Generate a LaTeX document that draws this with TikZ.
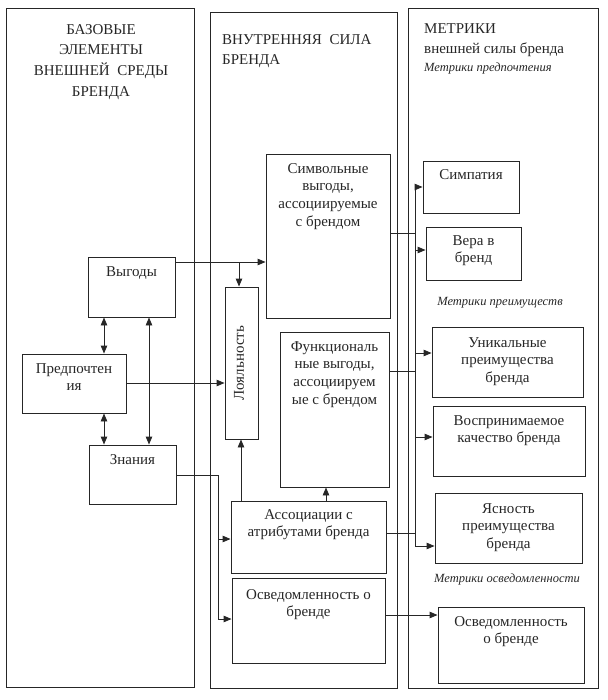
\documentclass[tikz,border=0pt]{standalone}
\usepackage{fontspec}
\setmainfont{Liberation Serif}
\usetikzlibrary{arrows.meta,calc,fit}
\begin{document}
\begin{tikzpicture}[x=1pt,y=-1pt,
  ln/.style={draw=black!85, line width=0.9pt},
  arr/.style={ln, -{Triangle[length=8pt,width=6.5pt]}},
  darr/.style={ln, {Triangle[length=8pt,width=6.5pt]}-{Triangle[length=8pt,width=6.5pt]}},
  box/.style={ln, rectangle, inner sep=0pt},
  txt/.style={inner sep=0pt, align=center, text=black!85, font=\fontsize{15}{17.7}\selectfont},
  hdr/.style={inner sep=0pt, text=black!85, font=\fontsize{15}{20.7}\selectfont},
  itl/.style={inner sep=0pt, text=black!85, font=\fontsize{12.5}{15}\selectfont\itshape}
]
\useasboundingbox (0,0) rectangle (607,700);
% columns
\node[box, fit={(6,8)(194,687)}] (colL) {};
\node[box, fit={(210,12)(397,688)}] (colM) {};
\node[box, fit={(408,8)(598,688)}] (colR) {};
% headers
\node[hdr, align=center, anchor=north] (hL) at (101,24) {БАЗОВЫЕ\\ЭЛЕМЕНТЫ\\ВНЕШНЕЙ\ \ СРЕДЫ\\БРЕНДА};
\node[hdr, align=left, anchor=north west] (hM) at (222,34) {ВНУТРЕННЯЯ\ \ СИЛА\\БРЕНДА};
\node[hdr, align=left, anchor=north west] (hR) at (424,23) {МЕТРИКИ\\внешней силы бренда};
\node[itl, anchor=north west] (iR1) at (424,63) {Метрики предпочтения};
\node[itl] (iR2) at (500,303) {Метрики преимуществ};
\node[itl] (iR3) at (507,579) {Метрики осведомленности};
% left boxes
\node[box, fit={(88,257)(175,317)}] (vyg) {};
\node[txt, anchor=north] (tvyg) at (131.5,266) {Выгоды};
\node[box, fit={(22,354)(126,413)}] (pref) {};
\node[txt, anchor=north] (tpref) at (74,363) {Предпочтен\\ия};
\node[box, fit={(89,445)(176,504)}] (zn) {};
\node[txt, anchor=north] (tzn) at (132.5,454) {Знания};
% middle boxes
\node[box, fit={(225,287)(258,439)}] (loy) {};
\node[txt, rotate=90] (tloy) at (239,363) {Лояльность};
\node[box, fit={(266,154)(390,318)}] (sym) {};
\node[txt, anchor=north] (tsym) at (328,163) {Символьные\\выгоды,\\ассоциируемые\\с брендом};
\node[box, fit={(280,332)(389,487)}] (func) {};
\node[txt, anchor=north] (tfunc) at (334.5,341) {Функциональ\\ные выгоды,\\ассоциируем\\ые с брендом};
\node[box, fit={(231,501)(386,573)}] (assoc) {};
\node[txt, anchor=north] (tassoc) at (308.5,509) {Ассоциации с\\атрибутами бренда};
\node[box, fit={(232,578)(385,663)}] (osv) {};
\node[txt, anchor=north] (tosv) at (308.5,589) {Осведомленность о\\бренде};
% right boxes
\node[box, fit={(423,161)(519,213)}] (simp) {};
\node[txt, anchor=north] (tsimp) at (471,169) {Симпатия};
\node[box, fit={(426,227)(521,280)}] (vera) {};
\node[txt, anchor=north] (tvera) at (473.5,235) {Вера в\\бренд};
\node[box, fit={(432,327)(583,397)}] (uniq) {};
\node[txt, anchor=north] (tuniq) at (507.5,337) {Уникальные\\преимущества\\бренда};
\node[box, fit={(433,406)(585,476)}] (vosp) {};
\node[txt, anchor=north] (tvosp) at (509,415) {Воспринимаемое\\качество бренда};
\node[box, fit={(435,493)(582,563)}] (yas) {};
\node[txt, anchor=north] (tyas) at (508.5,503) {Ясность\\преимущества\\бренда};
\node[box, fit={(438,607)(584,683)}] (osvR) {};
\node[txt, anchor=north] (tosvR) at (511,616) {Осведомленность\\о бренде};
% levels
\coordinate (yA) at (0,262);
\coordinate (xB) at (239,0);
\coordinate (xD1) at (104,0);
\coordinate (xD2) at (149,0);
\coordinate (yP) at (0,383);
\coordinate (zA) at (218,475);
\coordinate (zB) at (218,539);
\coordinate (zC) at (218,619);
\coordinate (xL) at (241,0);
\coordinate (xF) at (326,0);
\coordinate (ySym) at (0,233);
\coordinate (yFun) at (0,371);
\coordinate (yAs) at (0,533);
\coordinate (busT) at (415,187);
\coordinate (busV) at (415,250);
\coordinate (busU) at (415,353);
\coordinate (busQ) at (415,437);
\coordinate (busB) at (415,546);
\coordinate (yO) at (0,615);
% connectors
\draw[arr] (vyg.east |- yA) -- (sym.west |- yA);
\draw[arr] (xB |- yA) -- (xB |- loy.north);
\draw[darr] (vyg.south -| xD1) -- (pref.north -| xD1);
\draw[darr] (pref.south -| xD1) -- (zn.north -| xD1);
\draw[darr] (vyg.south -| xD2) -- (zn.north -| xD2);
\draw[arr] (pref.east |- yP) -- (loy.west |- yP);
\draw[ln] (zn.east |- zA) -- (zA) -- (zC);
\draw[arr] (zB) -- (assoc.west |- zB);
\draw[arr] (zC) -- (osv.west |- zC);
\draw[arr] (assoc.north -| xL) -- (loy.south -| xL);
\draw[arr] (assoc.north -| xF) -- (func.south -| xF);
\draw[ln] (sym.east |- ySym) -- (busT |- ySym);
\draw[ln] (func.east |- yFun) -- (busT |- yFun);
\draw[ln] (assoc.east |- yAs) -- (busT |- yAs);
\draw[ln] (busT) -- (busB);
\draw[arr] (busT) -- (simp.west |- busT);
\draw[arr] (busV) -- (vera.west |- busV);
\draw[arr] (busU) -- (uniq.west |- busU);
\draw[arr] (busQ) -- (vosp.west |- busQ);
\draw[arr] (busB) -- (yas.west |- busB);
\draw[arr] (osv.east |- yO) -- (osvR.west |- yO);
\end{tikzpicture}
\end{document}
